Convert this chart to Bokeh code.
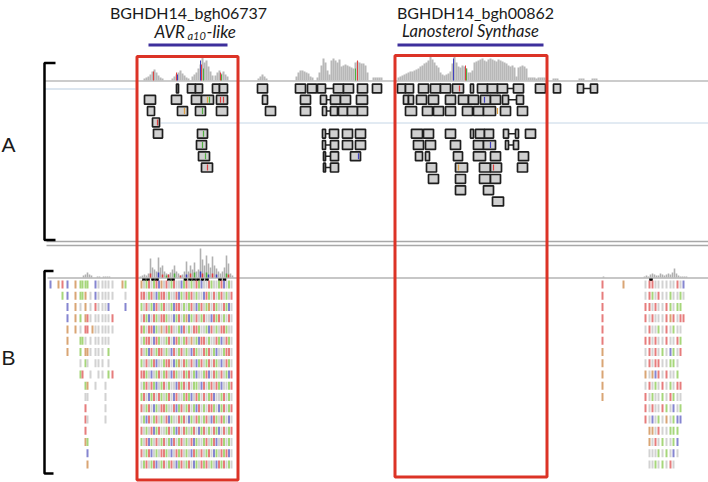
from bokeh.plotting import figure
from bokeh.models import Range1d
from bokeh.core.properties import value
from bokeh.embed import file_html
from bokeh.resources import INLINE

# ---------------- data ----------------
gene_ids = ["BGHDH14_bgh06737", "BGHDH14_bgh00862"]
gene_id_x = [188, 475]
gene_span_start = [148, 397]
gene_span_end = [227, 543]
box_start = [136.5, 394.5]
box_end = [237.5, 546.5]
box_top = [56, 55]
box_bottom = [479.5, 476.5]
panel_labels = ["A", "B"]

# Panel A coverage (2-unit bins starting at each segment start)
cov_a_start = [143, 171, 191, 214, 257, 295, 316, 372, 397, 552, 578, 591]
cov_a_heights = [
    [2, 3, 4, 6, 9, 11, 8, 5, 3, 2],
    [2, 4, 6, 8, 10, 7, 5, 3, 2],
    [4, 6, 8, 12, 16, 23, 18, 20, 14, 9, 5],
    [5, 8, 10, 7, 9, 6, 4],
    [2, 4, 6, 4, 2],
    [4, 8, 10, 10, 9, 8, 7, 4, 3],
    [3, 8, 15, 22, 18, 10, 6, 20, 22, 20, 18, 21, 14, 15, 16, 15, 14, 13, 12, 18, 19, 18, 17, 17, 15, 8],
    [3, 3, 3, 3, 3],
    [3, 4, 5, 6, 7, 8, 9, 9, 10, 11, 12, 14, 15, 17, 18, 20, 24, 21, 18, 15, 13,
     8, 6, 5, 6, 7, 9, 17, 25, 18, 14, 13, 15, 14, 12, 8, 8, 10,
     18, 19, 20, 21, 22, 20, 19, 21, 22, 21, 20, 19, 21, 20, 19, 18, 17,
     15, 14, 15, 13, 4, 13, 14, 15, 14, 12, 3, 3, 3, 3, 2, 3, 3, 3, 3],
    [2, 2, 2],
    [2, 2, 2],
    [2, 2, 2],
]
cov_a_snp_x = [153, 176, 177, 200, 201, 203, 220, 221, 355, 357, 453, 465, 466]
cov_a_snp_h = [9, 8, 6, 20, 16, 12, 8, 6, 12, 20, 22, 15, 12]
cov_a_snp_c = ["r", "r", "b", "b", "r", "g", "r", "g", "g", "r", "b", "r", "g"]

# Panel A reads: (start, end, row)
read_start = [176, 187, 195, 212, 219, 144, 171, 191, 201, 216, 147, 177, 195, 216, 152, 153, 197, 196, 198, 201,
              257, 295, 307, 317, 333, 343, 357, 372,
              262, 300, 320, 330, 340, 356,
              265, 300, 322, 330, 338, 347, 357,
              322, 329, 342, 355, 322, 330, 342, 355, 323, 330, 350, 323, 330,
              397, 405, 418, 430, 440, 452, 470, 477, 487, 497, 513, 535, 553, 577, 590,
              403, 408, 416, 428, 445, 458, 468, 480, 490, 502, 516,
              405, 422, 433, 445, 462, 473, 483, 500, 517,
              411, 423, 445, 470, 475, 484, 503, 515, 525,
              413, 425, 450, 473, 483, 505, 513,
              415, 425, 453, 473, 490, 518,
              426, 455, 479, 490, 517,
              428, 455, 479, 490,
              455, 483,
              492]
read_end = [178, 195, 202, 219, 227, 155, 181, 201, 213, 227, 154, 187, 205, 227, 159, 162, 207, 206, 209, 212,
            267, 305, 316, 325, 343, 353, 367, 381,
            267, 310, 326, 340, 350, 367,
            275, 310, 326, 337, 347, 357, 367,
            325, 338, 352, 365, 325, 338, 352, 365, 325, 338, 360, 325, 338,
            405, 413, 428, 440, 450, 463, 473, 487, 497, 507, 523, 545, 560, 583, 597,
            408, 413, 426, 438, 455, 468, 478, 490, 500, 508, 523,
            416, 432, 443, 455, 472, 483, 495, 510, 527,
            422, 433, 455, 473, 484, 493, 508, 518, 535,
            423, 435, 460, 483, 495, 508, 518,
            422, 429, 462, 485, 500, 528,
            436, 467, 490, 501, 527,
            438, 465, 490, 500,
            465, 493,
            503]
read_row = [0, 0, 0, 0, 0, 1, 1, 1, 1, 1, 2, 2, 2, 2, 3, 4, 4, 5, 6, 7,
            0, 0, 0, 0, 0, 0, 0, 0,
            1, 1, 1, 1, 1, 1,
            2, 2, 2, 2, 2, 2, 2,
            4, 4, 4, 4, 5, 5, 5, 5, 6, 6, 6, 7, 7,
            0, 0, 0, 0, 0, 0, 0, 0, 0, 0, 0, 0, 0, 0, 0,
            1, 1, 1, 1, 1, 1, 1, 1, 1, 1, 1,
            2, 2, 2, 2, 2, 2, 2, 2, 2,
            4, 4, 4, 4, 4, 4, 4, 4, 4,
            5, 5, 5, 5, 5, 5, 5,
            6, 6, 6, 6, 6, 6,
            7, 7, 7, 7, 7,
            8, 8, 8, 8,
            9, 9,
            10]
pair_start = [325, 326, 326, 325, 325, 325, 325, 507, 583, 508, 508, 508]
pair_end = [333, 330, 330, 329, 330, 330, 330, 513, 590, 516, 515, 513]
pair_row = [0, 1, 2, 4, 5, 6, 7, 0, 0, 1, 4, 5]
mm_x = [184, 207, 209, 220, 223, 202, 157, 203, 202, 205, 207, 459, 484, 497, 490, 493, 458, 358]
mm_row = [2, 1, 1, 1, 1, 2, 3, 4, 5, 6, 7, 0, 1, 2, 5, 7, 7, 6]
mm_c = ["o", "o", "g", "r", "r", "g", "r", "g", "g", "g", "r", "r", "b", "o", "b", "r", "o", "b"]

# Panel B coverage
cov_b_start = [139, 82, 96, 102, 108, 602, 643]
cov_b_heights = [
    [1, 2, 3, 2, 4, 19, 10, 8, 6, 20, 10, 12, 6, 4, 3, 5, 8, 12, 6, 4, 2, 3, 6, 16,
     6, 12, 8, 15, 6, 8, 29, 18, 12, 22, 14, 10, 21, 12, 9, 6, 4, 6, 10, 22, 14, 4, 2],
    [2, 3, 5, 3, 2],
    [1, 1],
    [1, 1, 1],
    [1],
    [1],
    [1, 2, 1, 3, 4, 3, 2, 2, 4, 3, 2, 3, 4, 3, 5, 9, 4, 2, 1, 1, 1, 1],
]
cov_b_snp_x = [149, 157, 161, 165, 167, 173, 179, 185, 189, 193, 199, 201, 205, 207, 211, 215, 225, 227]
cov_b_snp_h = [4, 5, 3, 2, 3, 4, 2, 3, 4, 5, 6, 4, 5, 3, 4, 3, 4, 3]
cov_b_snp_c = ["r", "b", "r", "g", "r", "g", "r", "b", "r", "g", "b", "r", "g", "b", "r", "b", "g", "r"]
mark_x = [143.5, 147.5, 152.5, 156.5, 168.5, 172.5, 185, 189.5, 193.5, 197.5, 202, 206.5, 219.5, 224, 650.5]

# Panel B mismatch columns (one string per read row)
left_cols = [50, 58, 62, 67, 75, 80, 82, 85, 87, 90, 92, 95, 98, 102, 105, 108, 112, 122, 125]
left_rows = [
    "borbogggg..blllllog",
    "..gboggo.l.blllll.l",
    "...bol.o.l.rlllb..b",
    "...bog.orl.lllllr..",
    "...ool.rr.ollllll..",
    "...o.ggl.l.lllll...",
    "...o.g.ool.lll.g...",
    ".....l.gl..lll.l...",
    ".....gr..l..ll.gr..",
    ".......go..l..l....",
    ".......ll.....l....",
    ".......r......l....",
    ".......rl.....l....",
    ".......r...........",
    ".......og..........",
    "........b..........",
    "........o..........",
]
box1_rows = [
    "olgrlgrbolrlgrllbgrlglrgbllrgllgrblgl",
    "rrlgrlbgrrlgllrbglrgrlgllbrglrlgrlglr",
    "glrlgbrlgrllgbrrlglgrlbgrlgolrgllrgbl",
    "lrgblrglrrgllbgrlgobglrlgrllbrgrlglrl",
    "rglrrbglolrgrllgbrlglrrgllgbrlglrrgll",
    "lgrrlbrgllgrlbrglgrlolgbrrlgllrgblrgl",
    "rlgbrlgrrlglbrlgrlglbrgllrgrlgbllgrrl",
    "glrlgrbllgrrlbgolrglrlbgrlgrlrglblrgl",
    "rrglblgrlgrlbrgllrgrlgbllgrblrglrlgbr",
    "lgrlrgblgrlgllbrgrlrlgglbrlgrlrgbllgr",
    "grlbgrlrglgrlbrllgrgblrglrlgrbllgrlgl",
    "rlgrlbglrrgllrbgrlgrlgbrlglrrglbgrlgr",
    "lgbrlgrlglrbgllrgrlbglrglgrlbrglrglbl",
    "rlglrbgrllgrlgbrlrglgrlbgrlglrgblrlgr",
    "glrbglrlgrlgbrlgrlglrbgllgrlgrblrglgl",
    "rlgrblglrrglblrgrlglbrglrlgrlbglrgrbl",
    "lgrlgrblgrlgrlbgrlgrlbglrgrlglbrgrlgl",
]
right_cols = [602, 623, 645, 649, 652, 655, 658, 662, 666, 670, 673, 677, 680, 683]
right_rows = [
    "rolrrllllllrlb",
    "r.lrglrllgllgl",
    "r.rrlrllrglgg.",
    "r.rlrlllrorlrr",
    "r.lrllglrlgll.",
    "r.rrlrllrllrg.",
    "o.lrlrlglbglr.",
    "o.lrlrrllggl..",
    "o.olobrlrllg..",
    "o.lrlglrlglrr.",
    "o.rlgllglrgll.",
    "..rlrllrglblg.",
    "..rlblglolgbb.",
    "...oolrllggg..",
    "...olrlgllgb..",
    "...lllglglbl..",
    "...llglglrl...",
]

# ---------------- styles ----------------
CMAP = {"r": "#e67c7c", "g": "#a6d67a", "b": "#8585d0", "o": "#d9a574", "l": "#d2d2d2"}
SNP = {"r": "#e04040", "g": "#50b040", "b": "#4040c0", "o": "#e0a040"}
RED = "#dc3326"
A_ROW0, A_STEP = 88.0, 11.3
B_ROW0, B_STEP = 284.0, 11.25

p = figure(width=708, height=482, x_range=Range1d(0, 708), y_range=Range1d(482, 0),
           output_backend="svg", toolbar_location=None, min_border=0,
           outline_line_color=None, background_fill_color="white", border_fill_color="white")
p.xaxis.visible = False
p.yaxis.visible = False
p.grid.visible = False

# track lines
p.segment(x0=[44, 44, 160, 46, 46, 47], x1=[708, 135, 708, 708, 708, 708],
          y0=[80.5, 88.5, 122.5, 241, 245, 277.5], y1=[80.5, 88.5, 122.5, 241, 245, 277.5],
          line_color=["#9a9a9a", "#b9cde0", "#c5d6e6", "#a8a8a8", "#a8a8a8", "#8f8f8f"],
          line_width=[1.2, 1, 1, 1.5, 1.5, 1.2])

# brackets
p.line(x=[55, 44, 44, 55], y=[62.5, 62.5, 239.5, 239.5], line_color="black", line_width=2.5)
p.line(x=[53, 44, 44, 53], y=[270.5, 270.5, 473, 473], line_color="black", line_width=2.5)


def bins(starts, heights, base, width):
    l, r, t, b = [], [], [], []
    for s, hs in zip(starts, heights):
        for j, h in enumerate(hs):
            x = s + 2 * j
            l.append(x + (2 - width) / 2)
            r.append(x + (2 - width) / 2 + width)
            t.append(base - h)
            b.append(base)
    return dict(left=l, right=r, top=t, bottom=b)


# coverage A
p.quad(**bins(cov_a_start, cov_a_heights, 80, 2), fill_color="#b8b8b8", line_color=None)
p.quad(left=[x - 0.5 for x in cov_a_snp_x], right=[x + 0.5 for x in cov_a_snp_x],
       top=[80 - h for h in cov_a_snp_h], bottom=[80] * len(cov_a_snp_x),
       fill_color=[SNP[c] for c in cov_a_snp_c], line_color=None)

# reads A
p.segment(x0=pair_start, x1=pair_end, y0=[A_ROW0 + A_STEP * r for r in pair_row],
          y1=[A_ROW0 + A_STEP * r for r in pair_row], line_color="#222222", line_width=1.5)
reads = p.quad(left=read_start, right=read_end,
               top=[A_ROW0 + A_STEP * r - 4.4 for r in read_row],
               bottom=[A_ROW0 + A_STEP * r + 4.4 for r in read_row],
               fill_color="#d0d0d0", line_color="#1e1e1e", line_width=1.7)
try:
    reads.glyph.border_radius = 2.5
except Exception:
    pass
p.segment(x0=mm_x, x1=mm_x, y0=[A_ROW0 + A_STEP * r - 3 for r in mm_row],
          y1=[A_ROW0 + A_STEP * r + 3 for r in mm_row],
          line_color=[SNP[c] for c in mm_c], line_width=1.2)

# coverage B
p.quad(**bins(cov_b_start, cov_b_heights, 277, 1.6), fill_color="#b0b0b0", line_color=None)
p.quad(left=[x + 0.2 for x in cov_b_snp_x], right=[x + 1.8 for x in cov_b_snp_x],
       top=[277 - h for h in cov_b_snp_h], bottom=[277] * len(cov_b_snp_x),
       fill_color=[SNP[c] for c in cov_b_snp_c], line_color=None)
p.quad(left=[x - 1.8 for x in mark_x], right=[x + 1.8 for x in mark_x],
       top=[278] * len(mark_x), bottom=[280.5] * len(mark_x), fill_color="black", line_color=None)

# mismatch ticks B
tx, ty, tc = [], [], []
box1_cols = [141 + 2.5 * k for k in range(37)]
for cols, rows in ((left_cols, left_rows), (box1_cols, box1_rows), (right_cols, right_rows)):
    for i, s in enumerate(rows):
        for cx, ch in zip(cols, s):
            if ch != ".":
                tx.append(cx)
                ty.append(B_ROW0 + B_STEP * i)
                tc.append(CMAP[ch])
p.quad(left=[x - 1.0 for x in tx], right=[x + 1.0 for x in tx],
       top=[y - 4 for y in ty], bottom=[y + 4 for y in ty], fill_color=tc, line_color=None)

# red boxes
p.quad(left=box_start, right=box_end, top=box_top, bottom=box_bottom,
       fill_alpha=0, line_color=RED, line_width=3)

# gene spans
p.segment(x0=gene_span_start, x1=gene_span_end, y0=[44.5, 44.5], y1=[44.5, 44.5],
          line_color="#3d2f9c", line_width=3)

# text
p.text(x=gene_id_x, y=[11.5, 11.5], text=gene_ids, text_font=value("Lato"),
       text_font_size=value("16px"), text_align="center", text_baseline="alphabetic",
       text_color="#1a1a1a")
p.text(x=[154, 206], y=[31, 31], text=["AVR", "-like"], text_font=value("Lato"),
       text_font_size=value("17px"), text_font_style="italic", text_align="left",
       text_baseline="alphabetic", text_color="#1a1a1a")
p.text(x=[187], y=[34.5], text=["a10"], text_font=value("Lato"),
       text_font_size=value("11px"), text_font_style="italic", text_align="left",
       text_baseline="alphabetic", text_color="#1a1a1a")
p.text(x=[470], y=[30.5], text=["Lanosterol Synthase"], text_font=value("Lato"),
       text_font_size=value("16.5px"), text_font_style="italic", text_align="center",
       text_baseline="alphabetic", text_color="#1a1a1a")
p.text(x=[1, 1], y=[144, 357], text=panel_labels, text_font=value("Liberation Sans"),
       text_font_size=value("21px"), text_align="left", text_baseline="alphabetic",
       text_color="#1a1a1a")

open("out.html", "w").write(file_html(p, INLINE))
